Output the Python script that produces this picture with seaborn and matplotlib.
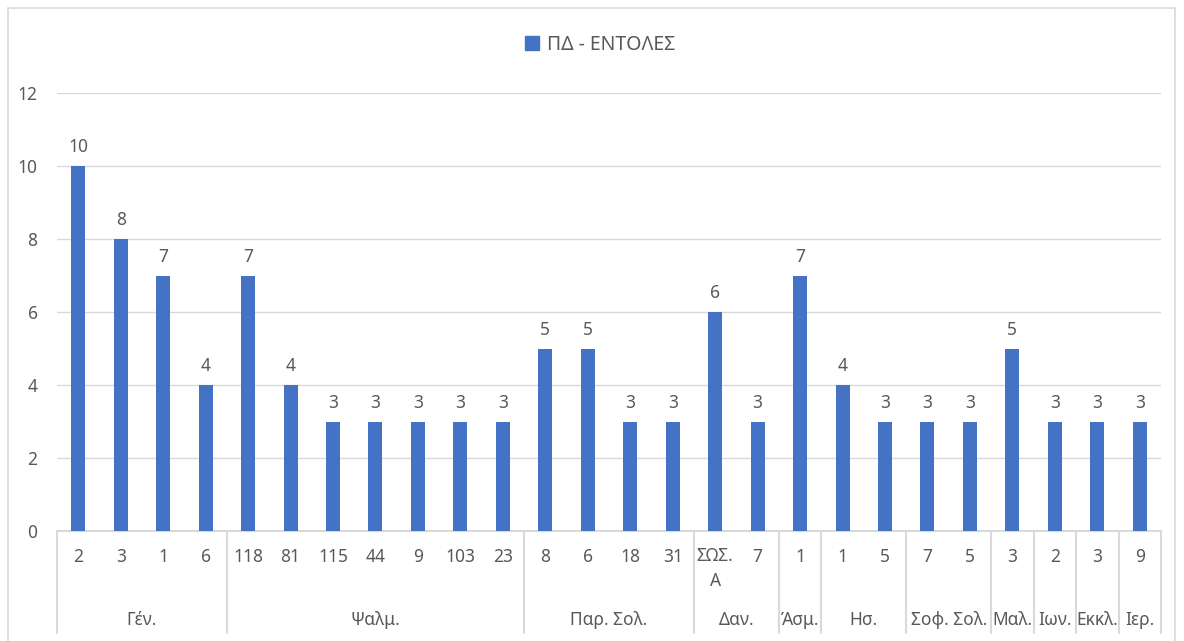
import pandas as pd
import matplotlib.pyplot as plt
import matplotlib.transforms as mtransforms
from matplotlib.patches import Rectangle
import seaborn as sns

# Chart data
books = ['Γέν.', 'Ψαλμ.', 'Παρ. Σολ.', 'Δαν.', 'Άσμ.', 'Ησ.', 'Σοφ. Σολ.', 'Μαλ.', 'Ιων.', 'Εκκλ.', 'Ιερ.']
chapters = [
    ['2', '3', '1', '6'],
    ['118', '81', '115', '44', '9', '103', '23'],
    ['8', '6', '18', '31'],
    ['ΣΩΣ.\nΑ', '7'],
    ['1'],
    ['1', '5'],
    ['7', '5'],
    ['3'],
    ['2'],
    ['3'],
    ['9'],
]
counts = [
    [10, 8, 7, 4],
    [7, 4, 3, 3, 3, 3, 3],
    [5, 5, 3, 3],
    [6, 3],
    [7],
    [4, 3],
    [3, 3],
    [5],
    [3],
    [3],
    [3],
]
series_name = 'ΠΔ - ΕΝΤΟΛΕΣ'

rows = []
for b, chs, vals in zip(books, chapters, counts):
    for c, v in zip(chs, vals):
        rows.append({'book': b, 'chapter': c, 'value': v, 'key': f'{b}|{c}|{len(rows)}'})
df = pd.DataFrame(rows)

sns.set_style('white')
plt.rcParams['font.family'] = ['Noto Sans', 'DejaVu Sans']

blue = '#4472C4'
txt = '#595959'
grid = '#D9D9D9'
fs = 12.5

fig = plt.figure(figsize=(11.84, 6.41), dpi=100)
ax = fig.add_axes([57 / 1184, (641 - 531) / 641, (1161 - 57) / 1184, (531 - 93) / 641])

sns.barplot(data=df, x='key', y='value', order=list(df['key']), color=blue,
            width=0.33, saturation=1, linewidth=0, ax=ax, zorder=3)
ax.bar_label(ax.containers[0], padding=7, fontsize=fs, color=txt)

ax.set_ylim(0, 12)
ax.set_xlim(-0.5, len(df) - 0.5)
ax.set_yticks(range(0, 13, 2))
ax.yaxis.grid(True, color=grid, linewidth=1, zorder=0)
ax.tick_params(axis='y', length=0, labelsize=fs, labelcolor=txt, pad=14)
ax.set_xticks([])
ax.set_xlabel('')
ax.set_ylabel('')
for s in ['top', 'right', 'left']:
    ax.spines[s].set_visible(False)
ax.spines['bottom'].set_color(grid)
ax.spines['bottom'].set_linewidth(1.5)

# multi-level category axis
trans = mtransforms.blended_transform_factory(ax.transData, ax.transAxes)
axh = 531 - 93
y_bottom = -(633 - 531) / axh
y_sub = -(557 - 531) / axh
y_grp = -(620 - 531) / axh

for i, c in enumerate(df['chapter']):
    if '\n' in c:
        ax.text(i, y_sub + 10 / axh, c, transform=trans, ha='center', va='top',
                fontsize=fs, color=txt, linespacing=1.5)
    else:
        ax.text(i, y_sub, c, transform=trans, ha='center', va='center',
                fontsize=fs, color=txt)

start = 0
for b, chs in zip(books, chapters):
    end = start + len(chs)
    ax.plot([start - 0.5, start - 0.5], [0, y_bottom], transform=trans,
            color=grid, lw=1.5, clip_on=False)
    ax.text((start + end - 1) / 2, y_grp, b, transform=trans, ha='center',
            va='center', fontsize=fs, color=txt)
    start = end
ax.plot([start - 0.5, start - 0.5], [0, y_bottom], transform=trans,
        color=grid, lw=1.5, clip_on=False)

# legend at top
fig.legend(handles=[Rectangle((0, 0), 1, 1, color=blue)], labels=[series_name],
           loc='center', bbox_to_anchor=(600 / 1184, 1 - 45 / 641), frameon=False,
           fontsize=14, labelcolor=txt, handlelength=0.7, handleheight=0.7,
           handletextpad=0.4)

# outer chart border
fig.patches.append(Rectangle((8 / 1184, -0.01), (1175 - 8) / 1184, 1 - 8 / 641 + 0.01,
                             transform=fig.transFigure, fill=False,
                             edgecolor=grid, lw=1.2))

fig.savefig('out.png', dpi=100)
